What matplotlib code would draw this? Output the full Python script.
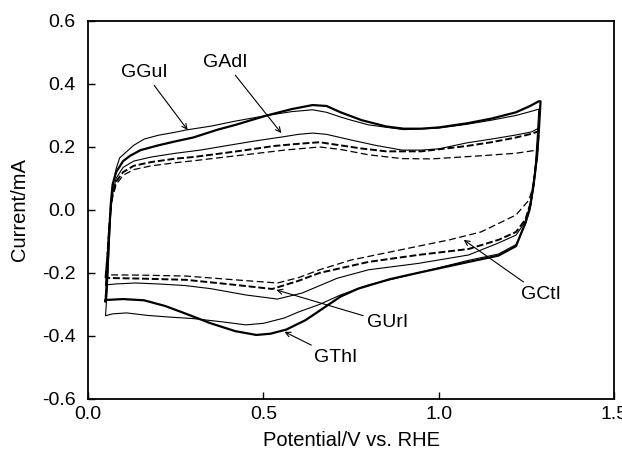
import numpy as np
import matplotlib
matplotlib.use('Agg')
import matplotlib.pyplot as plt

plt.rcParams['font.family'] = ['Liberation Sans', 'DejaVu Sans']
plt.rcParams['lines.scale_dashes'] = False

# --- данные (потенциал, В; ток, мА) ---
# GThI - толстая сплошная
thi_v = [0.05, 0.055, 0.06, 0.065, 0.07, 0.08, 0.10, 0.12, 0.15, 0.20, 0.25, 0.30, 0.37, 0.42, 0.45,
         0.51, 0.58, 0.64, 0.68, 0.72, 0.78, 0.85, 0.90, 0.95, 1.00, 1.08, 1.15, 1.22, 1.26, 1.285,
         1.29, 1.285, 1.28, 1.27, 1.26, 1.247, 1.22, 1.17, 1.085, 0.94, 0.86, 0.77, 0.72, 0.68,
         0.62, 0.565, 0.52, 0.48, 0.42, 0.35, 0.28, 0.22, 0.16, 0.10, 0.05, 0.05]
thi_i = [-0.29, -0.20, -0.08, 0.02, 0.08, 0.12, 0.155, 0.172, 0.19, 0.205, 0.218, 0.23, 0.255, 0.27, 0.28,
         0.30, 0.32, 0.333, 0.33, 0.31, 0.285, 0.265, 0.258, 0.258, 0.262, 0.275, 0.29, 0.31, 0.33, 0.345,
         0.345, 0.25, 0.17, 0.08, 0.01, -0.04, -0.115, -0.145, -0.165, -0.20, -0.22, -0.25, -0.275, -0.305,
         -0.35, -0.38, -0.393, -0.397, -0.385, -0.36, -0.33, -0.305, -0.287, -0.283, -0.286, -0.29]

# GGuI - тонкая сплошная
gui_v = [0.05, 0.055, 0.06, 0.065, 0.07, 0.08, 0.09, 0.11, 0.13, 0.16, 0.20, 0.25, 0.28, 0.35, 0.42,
         0.51, 0.58, 0.64, 0.68, 0.72, 0.75, 0.80, 0.90, 1.00, 1.08, 1.15, 1.22, 1.26, 1.285,
         1.28, 1.275, 1.27, 1.26, 1.247, 1.22, 1.17, 1.085, 0.94, 0.80, 0.72, 0.66, 0.60, 0.56,
         0.50, 0.45, 0.38, 0.30, 0.23, 0.17, 0.11, 0.07, 0.05, 0.05]
gui_i = [-0.335, -0.25, -0.12, 0.0, 0.07, 0.13, 0.165, 0.185, 0.205, 0.225, 0.237, 0.247, 0.254, 0.266, 0.282,
         0.30, 0.312, 0.318, 0.31, 0.295, 0.285, 0.27, 0.255, 0.26, 0.272, 0.285, 0.30, 0.312, 0.32,
         0.22, 0.14, 0.07, 0.0, -0.045, -0.11, -0.14, -0.16, -0.20, -0.238, -0.27, -0.30, -0.324, -0.343,
         -0.36, -0.365, -0.355, -0.345, -0.34, -0.335, -0.327, -0.33, -0.336, -0.335]

# GAdI - тонкая сплошная (средняя)
adi_v = [0.05, 0.055, 0.06, 0.065, 0.07, 0.08, 0.10, 0.13, 0.18, 0.25, 0.32, 0.40, 0.47, 0.555, 0.60,
         0.64, 0.68, 0.75, 0.82, 0.895, 0.95, 1.00, 1.08, 1.15, 1.22, 1.265, 1.285,
         1.28, 1.27, 1.261, 1.245, 1.22, 1.17, 1.085, 0.94, 0.80, 0.71, 0.61, 0.54, 0.45, 0.35,
         0.276, 0.20, 0.135, 0.08, 0.05, 0.05]
adi_i = [-0.238, -0.17, -0.07, 0.0, 0.05, 0.10, 0.135, 0.155, 0.168, 0.18, 0.19, 0.205, 0.218, 0.232, 0.24,
         0.244, 0.24, 0.222, 0.205, 0.19, 0.19, 0.194, 0.213, 0.225, 0.238, 0.248, 0.26,
         0.18, 0.08, 0.01, -0.04, -0.08, -0.105, -0.143, -0.17, -0.19, -0.217, -0.264, -0.283, -0.27, -0.25,
         -0.24, -0.235, -0.232, -0.235, -0.238, -0.238]

# GUrI - толстая пунктирная
uri_v = [0.05, 0.055, 0.06, 0.065, 0.07, 0.08, 0.10, 0.13, 0.18, 0.25, 0.30, 0.37, 0.45, 0.53, 0.60,
         0.66, 0.72, 0.78, 0.85, 0.95, 1.08, 1.15, 1.22, 1.265, 1.285,
         1.28, 1.27, 1.261, 1.247, 1.22, 1.17, 1.085, 0.94, 0.80, 0.66, 0.60, 0.525, 0.42, 0.28,
         0.15, 0.05, 0.05]
uri_i = [-0.216, -0.15, -0.06, 0.01, 0.05, 0.09, 0.12, 0.14, 0.152, 0.163, 0.168, 0.178, 0.19, 0.203, 0.21,
         0.215, 0.205, 0.195, 0.186, 0.186, 0.203, 0.215, 0.23, 0.242, 0.25,
         0.17, 0.08, 0.02, -0.03, -0.07, -0.095, -0.124, -0.143, -0.165, -0.20, -0.225, -0.251, -0.238, -0.222,
         -0.218, -0.216, -0.216]

# GCtI - тонкая пунктирная
cti_v = [0.05, 0.055, 0.06, 0.065, 0.07, 0.08, 0.10, 0.13, 0.18, 0.25, 0.30, 0.376, 0.47, 0.56, 0.66,
         0.72, 0.80, 0.895, 0.98, 1.12, 1.22, 1.28,
         1.275, 1.265, 1.256, 1.22, 1.12, 1.03, 0.89, 0.75, 0.66, 0.60, 0.54, 0.42, 0.28, 0.15, 0.05, 0.05]
cti_i = [-0.206, -0.14, -0.06, 0.0, 0.04, 0.08, 0.11, 0.128, 0.14, 0.15, 0.156, 0.166, 0.178, 0.19, 0.2,
         0.192, 0.175, 0.163, 0.162, 0.172, 0.18, 0.19,
         0.12, 0.06, 0.03, -0.016, -0.07, -0.095, -0.127, -0.159, -0.19, -0.215, -0.232, -0.222, -0.21, -0.207,
         -0.206, -0.206]

# подписи: текст, точка стрелки, положение текста
labels = ['GGuI', 'GAdI', 'GThI', 'GUrI', 'GCtI']
arrow_xy = [(0.284, 0.254), (0.551, 0.244), (0.56, -0.387), (0.537, -0.254), (1.071, -0.095)]
text_xy = [(0.162, 0.435), (0.392, 0.467), (0.705, -0.467), (0.855, -0.359), (1.29, -0.267)]

fig = plt.figure(figsize=(6.22, 4.66), dpi=100)
ax = fig.add_axes([0.1415, 0.144, 0.846, 0.811])

ax.plot(thi_v, thi_i, color='black', lw=1.6)
ax.plot(gui_v, gui_i, color='black', lw=0.8)
ax.plot(adi_v, adi_i, color='black', lw=0.8)
ax.plot(uri_v, uri_i, color='black', lw=1.4, dashes=(5, 2))
ax.plot(cti_v, cti_i, color='black', lw=0.9, dashes=(5, 2.5))

for lab, xy, txy in zip(labels, arrow_xy, text_xy):
    ax.annotate(lab, xy=xy, xytext=txy, ha='center', va='center', fontsize=14,
                arrowprops=dict(arrowstyle='->', lw=0.8, color='black',
                                shrinkA=1, shrinkB=0, mutation_scale=9))

ax.set_xlim(0, 1.5)
ax.set_ylim(-0.6, 0.6)
ax.set_xticks([0.0, 0.5, 1.0, 1.5])
ax.set_yticks([-0.6, -0.4, -0.2, 0.0, 0.2, 0.4, 0.6])
ax.xaxis.set_major_formatter(matplotlib.ticker.FormatStrFormatter('%.1f'))
ax.yaxis.set_major_formatter(matplotlib.ticker.FormatStrFormatter('%.1f'))
ax.tick_params(direction='in', length=5, width=1, labelsize=14)
ax.tick_params(axis='y', pad=9)
ax.tick_params(axis='x', pad=5)
for s in ax.spines.values():
    s.set_linewidth(1.3)

ax.set_xlabel('Potential/V vs. RHE', fontsize=14.5, labelpad=6)
ax.set_ylabel('Current/mA', fontsize=14.5, labelpad=9)

fig.savefig('out.png', dpi=100)
